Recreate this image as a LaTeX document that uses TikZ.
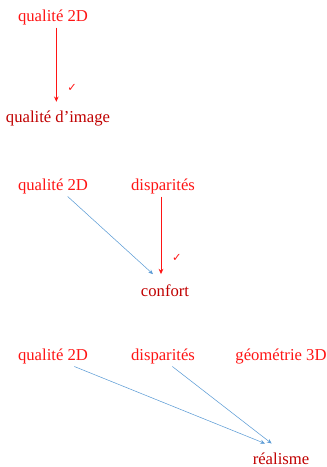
\documentclass[tikz,border=0pt]{standalone}
\usepackage{fontspec}
\setmainfont{Liberation Serif}
\newfontfamily\symbfont{DejaVu Sans}
\usetikzlibrary{arrows.meta}
\definecolor{rougevif}{RGB}{255,20,20}
\definecolor{rougefonce}{RGB}{192,0,0}
\definecolor{bleuclair}{RGB}{91,155,213}
\tikzset{
  critere/.style={
    text=rougevif,
    inner sep=2pt,
    font=\fontsize{12.5}{14}\selectfont
  },
  cible/.style={
    text=rougefonce,
    inner sep=2pt,
    font=\fontsize{12.5}{14}\selectfont
  },
  lienfort/.style={
    -{Stealth[length=4pt,width=3.5pt]},
    line width=0.6pt,
    rougevif
  },
  lienfaible/.style={
    -{Stealth[length=3.5pt,width=3pt]},
    line width=0.4pt,
    bleuclair
  },
  coche/.style={
    text=rougevif,
    inner sep=0pt,
    font=\symbfont\fontsize{8.5}{9}\selectfont
  }
}

\begin{document}
\begin{tikzpicture}[x=0.75pt,y=-0.75pt]
\useasboundingbox (0,0) rectangle (327,467);
% bloc 1
\node[critere] (q1) at (53,17) {qualité 2D};
\node[cible] (img) at (58,119) {qualité d’image};
\draw[lienfort, shorten >=5pt] ([xshift=2.5pt]q1.south) -- ([xshift=2.5pt]q1.south |- img.north)
  node[coche, pos=.75, right=8pt] {✓};
% bloc 2
\node[critere] (q2) at (53,186) {qualité 2D};
\node[critere] (d2) at (163,186) {disparités};
\node[cible] (conf) at (165,291) {confort};
\draw[lienfaible] ([xshift=11pt]q2.south) -- ([xshift=-9pt,yshift=6pt]conf.north);
\draw[lienfort, shorten >=6pt] ([xshift=-1.5pt]d2.south) -- ([xshift=-1.5pt]d2.south |- conf.north)
  node[coche, pos=.72, right=8pt] {✓};
% bloc 3
\node[critere] (q3) at (53,356) {qualité 2D};
\node[critere] (d3) at (163,356) {disparités};
\node[critere] (g3) at (281,356) {géométrie 3D};
\node[cible] (real) at (281,459) {réalisme};
\draw[lienfaible] ([xshift=16pt]q3.south) -- ([xshift=-12pt,yshift=5pt]real.north);
\draw[lienfaible] ([xshift=7pt]d3.south) -- ([xshift=-7pt,yshift=5pt]real.north);
\end{tikzpicture}
\end{document}
